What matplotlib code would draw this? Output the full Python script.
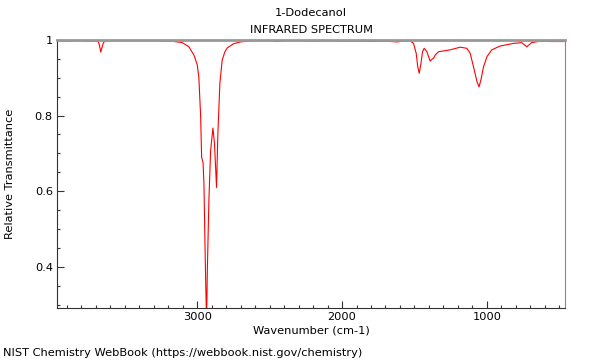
import matplotlib
matplotlib.use("Agg")
import matplotlib.pyplot as plt
from matplotlib.ticker import MultipleLocator

title_name = "1-Dodecanol"
title_kind = "INFRARED SPECTRUM"
x_label = "Wavenumber (cm-1)"
y_label = "Relative Transmittance"
footer = "NIST Chemistry WebBook (https://webbook.nist.gov/chemistry)"

wavenumber = [3969, 3940, 3900, 3850, 3800, 3750, 3700, 3683, 3675, 3667, 3660, 3648, 3637,
              3600, 3500, 3400, 3300, 3220, 3160, 3103, 3058, 3023, 3000, 2989, 2977, 2970,
              2960, 2954, 2948, 2942, 2936, 2930, 2920, 2908, 2892, 2881, 2867, 2858, 2844,
              2828, 2810, 2793, 2750, 2701, 2650, 2600, 2500, 2450, 2400, 2300, 2200, 2100,
              2000, 1900, 1800, 1700, 1620, 1560, 1529, 1506, 1488, 1477, 1467, 1455, 1444,
              1433, 1414, 1391, 1379, 1368, 1357, 1334, 1299, 1253, 1184, 1138, 1115, 1092,
              1068, 1054, 1041, 1023, 999, 966, 908, 816, 759, 724, 690, 632, 550, 460]
transmittance = [0.997, 0.998, 0.997, 0.998, 0.998, 0.997, 0.997, 0.995, 0.985, 0.968, 0.978, 0.993, 0.997,
                 0.998, 0.998, 0.998, 0.998, 0.997, 0.996, 0.993, 0.982, 0.960, 0.934, 0.900, 0.800, 0.690,
                 0.675, 0.620, 0.485, 0.360, 0.260, 0.400, 0.573, 0.707, 0.767, 0.725, 0.610, 0.750, 0.885,
                 0.947, 0.968, 0.979, 0.990, 0.995, 0.997, 0.998, 0.998, 0.996, 0.998, 0.998, 0.997, 0.998,
                 0.997, 0.997, 0.996, 0.997, 0.995, 0.998, 0.997, 0.991, 0.965, 0.929, 0.912, 0.938, 0.969,
                 0.978, 0.969, 0.944, 0.949, 0.952, 0.960, 0.969, 0.971, 0.974, 0.981, 0.978, 0.965, 0.929,
                 0.890, 0.876, 0.894, 0.929, 0.956, 0.974, 0.984, 0.991, 0.993, 0.982, 0.993, 0.997, 0.996, 0.996]

FS = 8.2

fig = plt.figure(figsize=(6, 3.6), dpi=100)
ax = fig.add_axes([57/600, 1-308/360, (565-57)/600, (308-40)/360])
ax.plot(wavenumber, transmittance, color="#ff0000", lw=0.8)
ax.set_xlim(3969, 460)
ax.set_ylim(0.291, 1.0)

ax.xaxis.set_major_locator(MultipleLocator(1000))
ax.xaxis.set_minor_locator(MultipleLocator(100))
ax.yaxis.set_major_locator(MultipleLocator(0.2))
ax.yaxis.set_minor_locator(MultipleLocator(0.05))
ax.set_yticks([0.4, 0.6, 0.8, 1.0])
ax.set_yticklabels(["0.4", "0.6", "0.8", "1"])
ax.tick_params(which="both", direction="in", labelsize=FS, colors="#333333", labelcolor="black")
ax.tick_params(which="major", length=5, width=0.8)
ax.tick_params(which="minor", length=2.5, width=0.8)
ax.tick_params(axis="x", pad=3)
ax.tick_params(axis="y", pad=3)

for s in ["left", "bottom"]:
    ax.spines[s].set_color("#333333")
    ax.spines[s].set_linewidth(0.8)
ax.spines["top"].set_color("#999999")
ax.spines["top"].set_linewidth(2.0)
ax.spines["right"].set_color("#888888")
ax.spines["right"].set_linewidth(0.8)

ax.set_xlabel(x_label, fontsize=FS, labelpad=2.5)
ax.set_ylabel(y_label, fontsize=FS, labelpad=14)

fig.text(311/600, 1-13/360, title_name, ha="center", va="center", fontsize=FS)
fig.text(311/600, 1-30/360, title_kind, ha="center", va="center", fontsize=FS)
fig.text(3/600, 1-353/360, footer, ha="left", va="center", fontsize=FS)

fig.savefig("out.png", dpi=100)
